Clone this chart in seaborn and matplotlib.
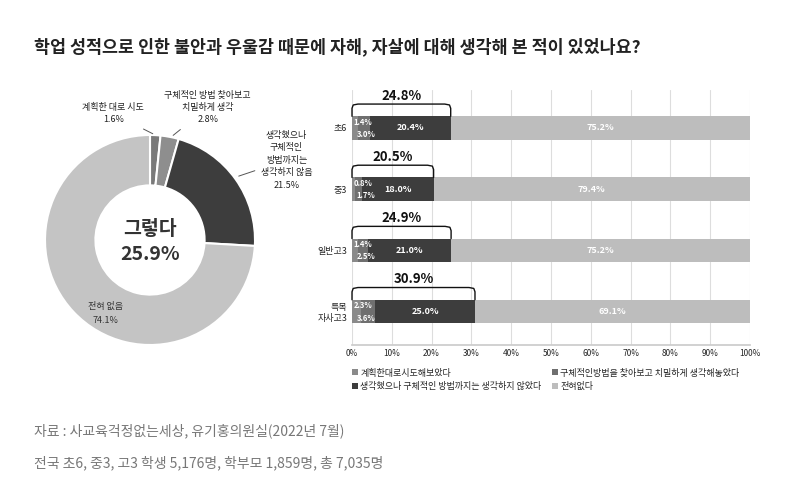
import matplotlib
matplotlib.use("Agg")
import matplotlib.pyplot as plt
import seaborn as sns
import pandas as pd
import numpy as np

FONTS = ["Noto Sans CJK KR", "Noto Sans CJK JP", "Noto Sans CJK SC", "DejaVu Sans"]

pie_labels = ["계획한 대로 시도", "구체적인 방법 찾아보고\n치밀하게 생각", "생각했으나\n구체적인\n방법까지는\n생각하지 않음", "전혀 없음"]
pie_values = [1.6, 2.8, 21.5, 74.1]
pie_colors = ["#7a7a7a", "#8e8e8e", "#3d3d3d", "#c4c4c4"]

groups = ["초6", "중3", "일반고3", "특목\n자사고3"]
series = ["계획한대로시도해보았다", "구체적인방법을 찾아보고 치밀하게 생각해놓았다",
          "생각했으나 구체적인 방법까지는 생각하지 않았다", "전혀없다"]
s1 = [1.4, 0.8, 1.4, 2.3]
s2 = [3.0, 1.7, 2.5, 3.6]
s3 = [20.4, 18.0, 21.0, 25.0]
s4 = [75.2, 79.4, 75.2, 69.1]
totals = ["24.8%", "20.5%", "24.9%", "30.9%"]
bar_colors = ["#8a8a8a", "#6f6f6f", "#3d3d3d", "#bdbdbd"]

sns.set_theme(style="white")
plt.rcParams["font.family"] = "sans-serif"
plt.rcParams["font.sans-serif"] = FONTS
plt.rcParams["axes.unicode_minus"] = False

fig = plt.figure(figsize=(8.02, 5.0), dpi=100)
fig.patch.set_facecolor("white")

fig.text(0.043, 0.895, "학업 성적으로 인한 불안과 우울감 때문에 자해, 자살에 대해 생각해 본 적이 있었나요?",
         fontsize=12.5, fontweight="bold", color="#222222")

# Pie
axp = fig.add_axes([45/802, 0.31, 210/802, 0.42])
axp.pie(pie_values, colors=pie_colors, startangle=90, counterclock=False,
        wedgeprops=dict(width=0.48, edgecolor="white", linewidth=1.5))
axp.set_xlim(-1, 1); axp.set_ylim(-1, 1)
axp.set_aspect("equal")
axp.text(0, 0.1, "그렇다", ha="center", va="center", fontsize=14, fontweight="bold", color="#333333")
axp.text(0, -0.14, "25.9%", ha="center", va="center", fontsize=14, fontweight="bold", color="#333333")
axp.text(-0.42, -0.7, "전혀 없음\n74.1%", ha="center", va="center", fontsize=6.5, color="#333333", linespacing=1.6)
kw = dict(fontsize=6.5, color="#222222", ha="center", va="bottom", linespacing=1.5)
ap = dict(arrowstyle="-", color="#555", lw=0.7)
axp.annotate("계획한 대로 시도\n1.6%", xy=(0.05, 1.0), xytext=(-0.35, 1.1), arrowprops=ap, **kw)
axp.annotate("구체적인 방법 찾아보고\n치밀하게 생각\n2.8%", xy=(0.2, 0.98), xytext=(0.55, 1.1), arrowprops=ap, **kw)
axp.annotate("생각했으나\n구체적인\n방법까지는\n생각하지 않음\n21.5%", xy=(0.82, 0.6), xytext=(1.3, 0.48), arrowprops=ap, **kw)

# Bars
axb = fig.add_axes([352/802, 0.31, 398/802, 0.51])
df = pd.DataFrame({"group": groups, "s1": s1, "s2": s2, "s3": s3, "s4": s4})
left = np.zeros(len(groups))
bw = 0.38
for col, name, c in zip(["s1", "s2", "s3", "s4"], series, bar_colors):
    sns.barplot(data=df, x=col, y="group", left=left, color=c, width=bw, ax=axb, label=name,
                orient="h", edgecolor="none")
    left = left + df[col].values
axb.set_xlim(0, 100)
axb.set_ylim(3.55, -0.62)
axb.set_xticks(range(0, 101, 10))
axb.set_xticklabels([f"{v}%" for v in range(0, 101, 10)], fontsize=6)
axb.tick_params(axis="y", labelsize=6.5, length=0)
axb.tick_params(axis="x", length=0, pad=3)
axb.set_xlabel(""); axb.set_ylabel("")
axb.grid(axis="x", color="#dddddd", lw=0.8)
axb.set_axisbelow(True)
for s in ["top", "right", "left"]:
    axb.spines[s].set_visible(False)
axb.spines["bottom"].set_color("#cccccc")

for i in range(len(groups)):
    y0 = i - bw / 2
    tot = s1[i] + s2[i] + s3[i]
    axb.text(0.3, i - 0.09, f"{s1[i]}%", color="white", fontsize=5.5, fontweight="bold", ha="left", va="center")
    axb.text(1.2, i + 0.11, f"{s2[i]}%", color="white", fontsize=5.5, fontweight="bold", ha="left", va="center")
    axb.text(s1[i] + s2[i] + s3[i] / 2, i, f"{s3[i]}%", color="white", fontsize=6.5, fontweight="bold", ha="center", va="center")
    axb.text(tot + s4[i] / 2, i, f"{s4[i]}%", color="white", fontsize=6.5, fontweight="bold", ha="center", va="center")
    yb = y0 - 0.2
    r = 1.5
    xs = [0, 0, 0.3, r, tot - r, tot - 0.3, tot, tot]
    ys = [y0, yb + 0.07, yb + 0.015, yb, yb, yb + 0.015, yb + 0.07, y0]
    axb.plot(xs, ys, color="#111111", lw=1.0, clip_on=False)
    axb.text(tot / 2, yb - 0.02, totals[i], ha="center", va="bottom", fontsize=9.5, fontweight="bold", color="#111111")

h, l = axb.get_legend_handles_labels()
order = [0, 2, 1, 3]
axb.legend([h[k] for k in order], [l[k] for k in order], loc="upper left", bbox_to_anchor=(-0.02, -0.06),
           ncol=2, frameon=False, fontsize=6.5,
           handlelength=0.6, handleheight=0.6, handletextpad=0.3, columnspacing=1.2, labelspacing=0.5)

fig.text(0.043, 0.13, "자료 : 사교육걱정없는세상, 유기홍의원실(2022년 7월)", fontsize=10, color="#777777")
fig.text(0.043, 0.065, "전국 초6, 중3, 고3 학생 5,176명, 학부모 1,859명, 총 7,035명", fontsize=10, color="#777777")

fig.savefig("out.png", dpi=100)
